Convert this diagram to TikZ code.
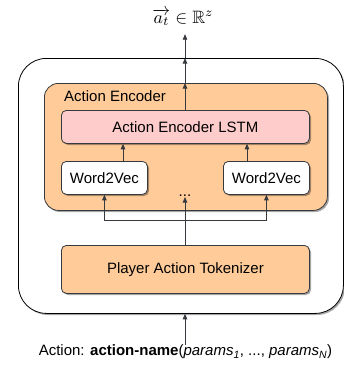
\documentclass[tikz,border=0pt]{standalone}
\usepackage{amsmath,amssymb}
\usepackage{graphicx}
\usepackage{fontspec}
\setmainfont{Liberation Sans}
\usetikzlibrary{arrows.meta,shadows}
\definecolor{encfill}{HTML}{FFCC99}
\definecolor{lstmfill}{HTML}{FFCCCC}
\definecolor{edgecol}{HTML}{36393D}
\tikzset{
  base/.style={draw=edgecol, line width=0.8pt, inner sep=0pt,
    drop shadow={shadow xshift=1.6pt, shadow yshift=-1.6pt, opacity=0.35, fill=black}},
  box/.style={base, rounded corners=5pt, font=\fontsize{15}{18}\selectfont},
  arr/.style={-{Triangle[length=5.5pt,width=4.5pt]}, line width=0.8pt, draw=edgecol},
  txt/.style={inner sep=0pt, font=\fontsize{15}{18}\selectfont}
}
\begin{document}
\begin{tikzpicture}[x=1pt,y=-1pt]
  \useasboundingbox (0,0) rectangle (344,370);
  % outer container
  \node[base, draw=black, fill=white, rounded corners=28pt, minimum width=325pt, minimum height=255pt,
        anchor=north west] (outer) at (18,58) {};
  % action encoder group
  \node[base, fill=encfill, rounded corners=14pt, minimum width=283pt, minimum height=127pt,
        anchor=north west] (enc) at (44,83) {};
  \node[txt, anchor=west] (enclabel) at (64,96) {Action Encoder};
  % LSTM
  \node[box, fill=lstmfill, minimum width=248pt, minimum height=33pt, anchor=north west]
        (lstm) at (61,110) {Action Encoder LSTM};
  % word embeddings
  \node[box, fill=white, minimum width=86pt, minimum height=33pt, anchor=north west]
        (w2vl) at (61,161) {Word2Vec};
  \node[box, fill=white, minimum width=86pt, minimum height=33pt, anchor=north west]
        (w2vr) at (223,161) {Word2Vec};
  \node[txt, anchor=south] (dots) at (185,197) {...};
  % tokenizer
  \node[box, fill=encfill, minimum width=248pt, minimum height=48pt, anchor=north west]
        (tok) at (61,245) {Player Action Tokenizer};
  % output and input labels
  \node[inner sep=0pt] (out) at (183,17.5)
        {\resizebox{61pt}{!}{$\overrightarrow{a_t}\in\mathbb{R}^z$}};
  \node[txt, anchor=center] (inp) at (185.5,352)
        {Action: \textbf{action-name}(\textit{params}\textsubscript{\textit{1}}, ..., \textit{params}\textsubscript{\textit{N}})};
  \coordinate (split) at (185,220);
  % connectors
  \draw[arr] (inp.north -| split) -- (outer.south -| split);
  \draw[line width=0.8pt, draw=edgecol] (tok.north -| split) -- (split);
  \draw[arr] (split) -- (dots.south -| split);
  \draw[arr] (split) -| (w2vl.south);
  \draw[arr] (split) -| (w2vr.south);
  \draw[arr] (w2vl.north -| 123,0) -- (lstm.south -| 123,0);
  \draw[arr] (w2vr.north -| 247,0) -- (lstm.south -| 247,0);
  \draw[arr] (lstm.north -| split) -- (enc.north -| split);
  \draw[arr] (enc.north -| split) -- (outer.north -| split);
  \draw[arr] (outer.north -| split) -- ([yshift=-8pt]out.south -| split);
\end{tikzpicture}
\end{document}
